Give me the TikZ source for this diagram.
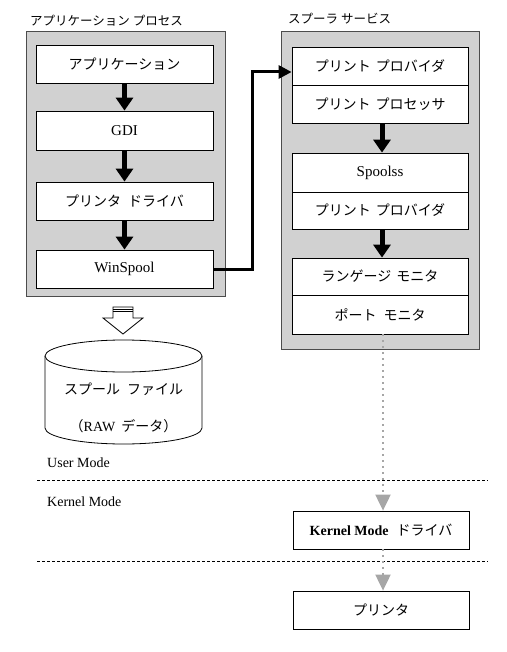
\documentclass[tikz,border=0pt]{standalone}
\usepackage{fontspec}
\setmainfont{Liberation Serif}
\newfontfamily\jp{Noto Sans CJK JP}
\usetikzlibrary{arrows.meta}
\begin{document}
\begin{tikzpicture}[x=1pt,y=-1pt,
  container/.style={draw=black!70, line width=1pt, fill=black!18},
  box/.style={draw=black, line width=0.8pt, fill=white, minimum width=177pt, minimum height=38pt, inner sep=0pt, font=\fontsize{14}{16}\selectfont},
  latin/.style={font=\fontsize{15}{17}\selectfont},
  bigarrow/.style={-{Triangle[width=17pt,length=13pt]}, line width=5pt},
  link/.style={line width=3pt, -{Triangle[width=13pt,length=13pt]}},
  dotarrow/.style={draw=black!35, line width=2pt, dash pattern=on 2pt off 4pt, -{Triangle[width=15pt,length=16pt,fill=black!35]}},
  sep/.style={line width=0.7pt, dash pattern=on 3pt off 2pt},
  title/.style={anchor=west, font=\jp\fontsize{12.5}{14}\selectfont, inner sep=0pt},
  modelabel/.style={anchor=west, font=\fontsize{14}{16}\selectfont, inner sep=0pt}
]
\useasboundingbox (0,0) rectangle (506,652);

% titles
\node[title] (t1) at (30,21) {アプリケーション プロセス};
\node[title] (t2) at (288,19) {スプーラ サービス};

% containers
\draw[container] (26,32) rectangle (225,296);
\draw[container] (281,32) rectangle (479,349);

% left boxes
\node[box] (app) at (124.5,64) {\jp アプリケーション};
\node[box, latin, minimum height=39pt] (gdi) at (124.5,130.5) {GDI};
\node[box] (drv) at (124.5,201) {\jp プリンタ\hspace{7pt}ドライバ};
\node[box, latin] (win) at (124.5,269) {WinSpool};

\draw[bigarrow] (app) -- (gdi);
\draw[bigarrow] (gdi) -- (drv);
\draw[bigarrow] (drv) -- (win);

% right boxes
\node[box, minimum width=176pt] (pp1) at (380,66) {\jp プリント\hspace{5pt}プロバイダ};
\node[box, minimum width=176pt] (proc) at (380,104) {\jp プリント\hspace{5pt}プロセッサ};
\node[box, latin, minimum width=176pt, minimum height=39pt] (spl) at (380,172.5) {Spoolss};
\node[box, minimum width=176pt, minimum height=37pt] (pp2) at (380,210.5) {\jp プリント\hspace{5pt}プロバイダ};
\node[box, minimum width=176pt, minimum height=37pt] (lang) at (380,276.5) {\jp ランゲージ\hspace{5pt}モニタ};
\node[box, minimum width=176pt, minimum height=39pt] (port) at (380,314.5) {\jp ポート\hspace{7pt}モニタ};

\draw[bigarrow] (proc.south -| 382,0) -- (spl.north -| 382,0);
\draw[bigarrow] (pp2.south -| 382,0) -- (lang.north -| 382,0);

% link WinSpool -> print provider
\draw[link] (win.east) -- ++(39,0) |- ([yshift=-6pt]pp1.west);

% hollow arrow
\draw[line width=0.8pt, fill=white] (113,307) -- (133,307) -- (133,318) -- (143,318) -- (123,334) -- (103,318) -- (113,318) -- cycle;
\draw[line width=0.6pt] (113,309) -- (133,309);
\draw[line width=0.6pt] (113,311) -- (133,311);

% cylinder
\draw[line width=0.8pt, fill=white] (45,356) -- (45,428) arc[start angle=180, end angle=0, x radius=78.5, y radius=16] -- (202,356);
\draw[line width=0.8pt, fill=white] (123.5,356) ellipse[x radius=78.5, y radius=16];
\node[font=\jp\fontsize{14}{16}\selectfont] (cyl1) at (123.5,389) {スプール\hspace{7pt}ファイル};
\node[font=\fontsize{14}{16}\selectfont] (cyl2) at (123.5,426) {{\jp （}RAW\hspace{6pt}{\jp データ）}};

% mode labels and separators
\node[modelabel] (um) at (47,463) {User Mode};
\node[modelabel] (km) at (47,502) {Kernel Mode};
\draw[sep] (37,480) -- (488,480);
\draw[sep] (37,561) -- (488,561);

% kernel side boxes
\node[box, minimum width=176pt] (kern) at (381,530) {\textbf{Kernel Mode}\hspace{8pt}{\jp ドライバ}};
\node[box, minimum width=176pt] (prn) at (381,610) {\jp プリンタ};

\draw[dotarrow] (port.south -| 383,0) -- (kern.north -| 383,0);
\draw[dotarrow] (kern.south -| 383,0) -- (prn.north -| 383,0);
\end{tikzpicture}
\end{document}
